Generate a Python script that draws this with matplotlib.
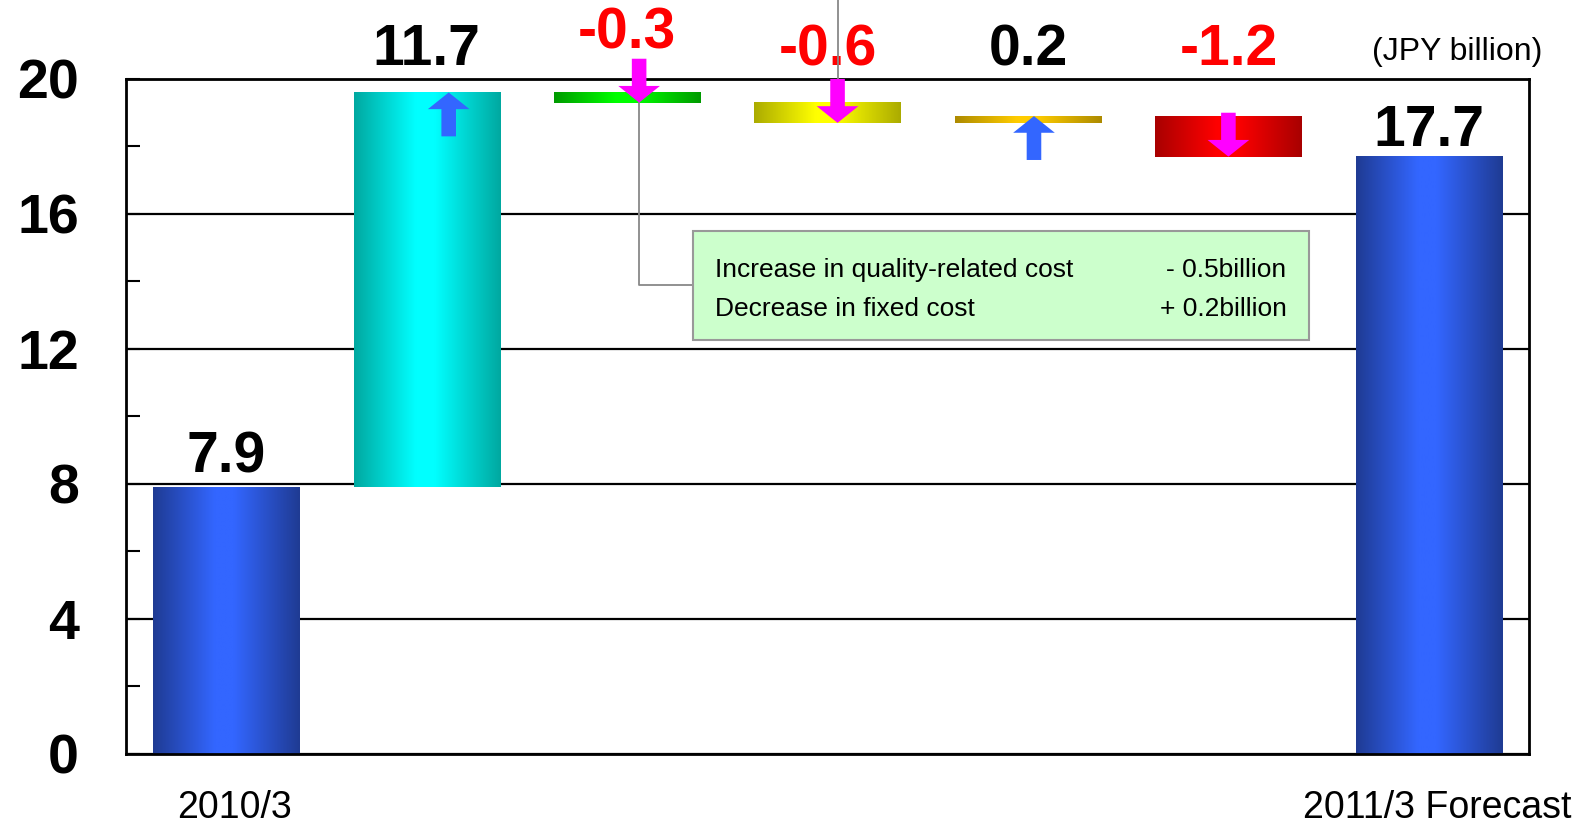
import matplotlib
matplotlib.use("Agg")
import matplotlib.pyplot as plt
import matplotlib.patches as mpatches
import matplotlib.transforms as mtransforms
from matplotlib import font_manager
from matplotlib.colors import LinearSegmentedColormap
import numpy as np

plt.rcParams['font.family'] = ['Liberation Sans', 'DejaVu Sans']

# --- Data ---
categories = ['2010/3', '', '', '', '', '', '2011/3 Forecast']
start_value = 7.9
deltas = [11.7, -0.3, -0.6, 0.2, -1.2]
delta_labels = ['11.7', '-0.3', '-0.6', '0.2', '-1.2']
end_value = 17.7
end_label = '17.7'
start_label = '7.9'

note_items = ['Increase in quality-related cost', 'Decrease in fixed cost']
note_amounts = ['- 0.5billion', '+ 0.2billion']

# gradient colours (edge, centre) for each bar
bar_shades = [
    ('#1f3b93', '#3366ff'),
    ('#00a8a0', '#00ffff'),
    ('#009a00', '#00ff00'),
    ('#abab00', '#ffff00'),
    ('#ad8a00', '#ffcc00'),
    ('#a80000', '#ff0000'),
    ('#1f3b93', '#3366ff'),
]
arrow_offset = [0.11, 0.06, 0.05, 0.03, 0.0]

# narrow font for the callout, if there is one
try:
    font_manager.findfont(font_manager.FontProperties(family='Liberation Sans Narrow'),
                          fallback_to_default=False)
    note_font, note_size = 'Liberation Sans Narrow', 22
except Exception:
    note_font, note_size = 'Liberation Sans', 19

# --- Waterfall geometry ---
levels = np.concatenate([[start_value], start_value + np.cumsum(deltas)])
bottoms = [0.0]
heights = [start_value]
for i, d in enumerate(deltas):
    lo, hi = sorted([levels[i], levels[i + 1]])
    bottoms.append(lo)
    heights.append(hi - lo)
bottoms.append(0.0)
heights.append(end_value)
x = np.arange(len(categories))

# --- Figure ---
fig = plt.figure(figsize=(15.85, 8.27), dpi=100)
ax = fig.add_axes([0.0795, 0.0883, 0.8852, 0.8162])

bars = ax.bar(x, heights, bottom=bottoms, width=0.73, color='none', zorder=2)
for b, (edge, centre) in zip(bars, bar_shades):
    cmap = LinearSegmentedColormap.from_list(
        'g', [(0, edge), (0.42, centre), (0.55, centre), (1, edge)])
    x0, y0 = b.get_x(), b.get_y()
    grad = np.linspace(0, 1, 256).reshape(1, -1)
    ax.imshow(grad, extent=[x0, x0 + b.get_width(), y0, y0 + b.get_height()],
              aspect='auto', cmap=cmap, zorder=2, interpolation='bilinear')
ax.set_xlim(-0.5, len(categories) - 0.5)
ax.set_ylim(0, 20)

# arrows on the step bars
arrow_len = 1.3
tails = []
for i, d in enumerate(deltas):
    xi = x[i + 1] + arrow_offset[i]
    tip = levels[i + 1]
    if d > 0:
        tail = tip - arrow_len
        col = '#3366ff'
    else:
        tail = tip + arrow_len
        col = '#ff00ff'
    tails.append(tail)
    ax.annotate('', xy=(xi, tip), xytext=(xi, tail),
                arrowprops=dict(arrowstyle='simple,head_length=1.2,head_width=3.0,tail_width=1.05',
                                mutation_scale=10, fc=col, ec='none',
                                shrinkA=0, shrinkB=0),
                zorder=4, annotation_clip=False)

# value labels
ax.text(x[0], start_value + 0.45, start_label, ha='center', va='baseline',
        fontsize=41, fontweight='bold', color='black')
ax.text(x[-1], end_value + 0.3, end_label, ha='center', va='baseline',
        fontsize=41, fontweight='bold', color='black')
for i, (d, lab) in enumerate(zip(deltas, delta_labels)):
    top = max(levels[i], levels[i + 1], tails[i])
    y = max(20.4, top + 0.3)
    ax.text(x[i + 1], y, lab, ha='center', va='baseline', fontsize=41,
            fontweight='bold', color='black' if d > 0 else '#ff0000',
            clip_on=False)

# callout box for the -0.3 step
conn_x = x[2] + arrow_offset[1]
ax.plot([conn_x, conn_x, 2.33], [levels[2], 13.9, 13.9], color='#888888',
        lw=1.3, zorder=3)
ax.plot([3.05, 3.05], [20, 23], color='#888888', lw=1.3, zorder=3,
        clip_on=False)
box = mpatches.Rectangle((2.33, 12.28), 3.07, 3.23, facecolor='#ccffcc',
                         edgecolor='#999999', lw=1.5, zorder=3)
ax.add_patch(box)
for k, (item, amt) in enumerate(zip(note_items, note_amounts)):
    yy = 14.34 - k * 1.17
    ax.text(2.44, yy, item, ha='left', va='center', fontsize=note_size,
            family=note_font, zorder=4)
    ax.text(5.29, yy, amt, ha='right', va='center', fontsize=note_size,
            family=note_font, zorder=4)

# grid and axes styling
ax.set_yticks(np.arange(0, 21, 4))
ax.set_yticks(np.arange(2, 20, 4), minor=True)
ax.yaxis.grid(True, color='black', lw=1.6)
ax.set_axisbelow(True)
ax.tick_params(axis='y', which='both', direction='in', length=10, width=1.5,
               pad=34, labelsize=40)
for lab in ax.get_yticklabels():
    lab.set_fontweight('bold')
ax.set_xticks(x)
ax.set_xticklabels(categories, fontsize=27)
ax.tick_params(axis='x', length=0, pad=26)
shift = mtransforms.ScaledTranslation(8 / 100, 0, fig.dpi_scale_trans)
for lab in ax.get_xticklabels():
    lab.set_transform(lab.get_transform() + shift)
for s in ax.spines.values():
    s.set_linewidth(2)
    s.set_color('black')

ax.text(0.949, 1.04, '(JPY billion)', transform=ax.transAxes, ha='center',
        va='center', fontsize=23)

fig.savefig('out.png', dpi=100)
